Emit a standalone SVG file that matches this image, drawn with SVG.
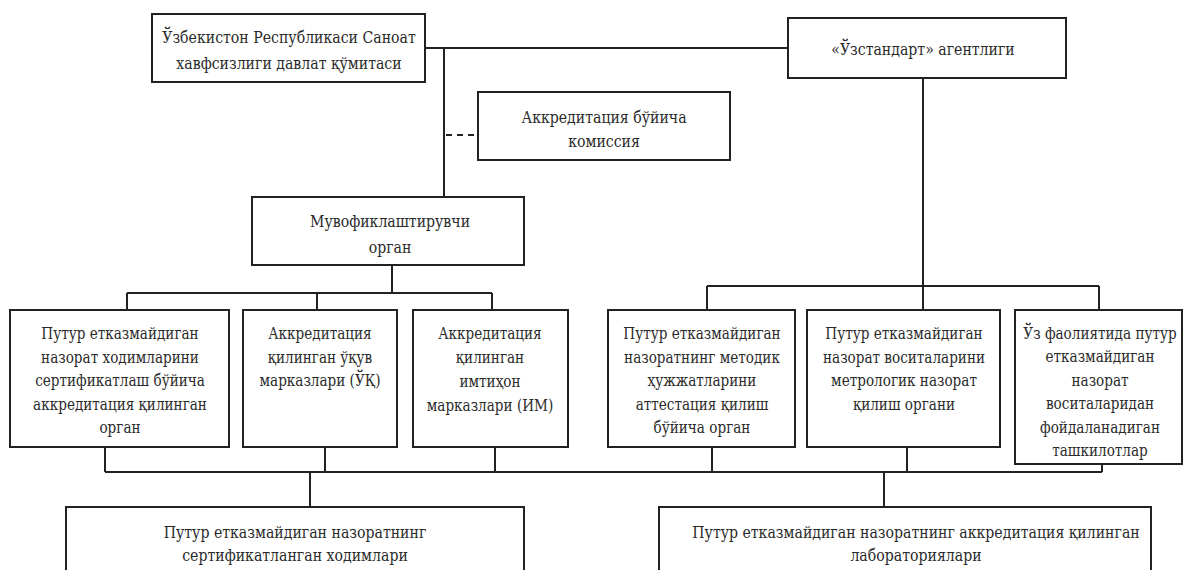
<svg xmlns="http://www.w3.org/2000/svg" width="1184" height="570" viewBox="0 0 1184 570">
<style>
.box{fill:#fff;stroke:#222;stroke-width:2}
.ln{fill:none;stroke:#222;stroke-width:2}
.dash{fill:none;stroke:#222;stroke-width:2;stroke-dasharray:6 5}
text{font-family:'DejaVu Serif',serif;font-size:17px;fill:#2a2a2a;text-anchor:middle}
</style>
<rect width="1184" height="570" fill="#fff"/>
<g id="connectors">
<path class="ln" d="M425 48H788"/>
<path class="ln" d="M444 48V197"/>
<path class="dash" d="M446 135H478"/>
<path class="ln" d="M392 265V293M127 293H492M127 293V310M317 293V310M492 293V310"/>
<path class="ln" d="M923 78V310M707 286H1099M707 286V310M1099 286V310"/>
<path class="ln" d="M105 472H1102M105 447V472M325 447V472M495 447V472M712 447V472M907 447V472M1102 464V472"/>
<path class="ln" d="M310 472V507M884 472V507"/>
</g>
<g id="n-committee">
<rect class="box" x="152" y="14" width="273" height="68"/>
<g transform="translate(289 0) scale(0.83 1)">
<text x="0" y="43">Ўзбекистон Республикаси Саноат</text>
<text x="0" y="69">хавфсизлиги давлат қўмитаси</text>
</g>
</g>
<g id="n-uzstandart">
<rect class="box" x="788" y="18" width="278" height="60"/>
<g transform="translate(923 0) scale(0.83 1)">
<text x="0" y="55">«Ўзстандарт» агентлиги</text>
</g>
</g>
<g id="n-commission">
<rect class="box" x="478" y="92" width="252" height="68"/>
<g transform="translate(604 0) scale(0.83 1)">
<text x="0" y="123">Аккредитация бўйича</text>
<text x="0" y="147">комиссия</text>
</g>
</g>
<g id="n-coord">
<rect class="box" x="252" y="197" width="272" height="68"/>
<g transform="translate(390 0) scale(0.83 1)">
<text x="0" y="227">Мувофиклаштирувчи</text>
<text x="0" y="253">орган</text>
</g>
</g>
<g id="n-a">
<rect class="box" x="10" y="310" width="219" height="137"/>
<g transform="translate(120 0) scale(0.8 1)">
<text x="0" y="339">Путур етказмайдиган</text>
<text x="0" y="363">назорат ходимларини</text>
<text x="0" y="386">сертификатлаш бўйича</text>
<text x="0" y="410">аккредитация қилинган</text>
<text x="0" y="433">орган</text>
</g>
</g>
<g id="n-b">
<rect class="box" x="243" y="310" width="154" height="137"/>
<g transform="translate(320 0) scale(0.8 1)">
<text x="0" y="339">Аккредитация</text>
<text x="0" y="363">қилинган ўқув</text>
<text x="0" y="386">марказлари (ЎҚ)</text>
</g>
</g>
<g id="n-c">
<rect class="box" x="413" y="310" width="155" height="137"/>
<g transform="translate(490 0) scale(0.8 1)">
<text x="0" y="339">Аккредитация</text>
<text x="0" y="363">қилинган</text>
<text x="0" y="387">имтиҳон</text>
<text x="0" y="411">марказлари (ИМ)</text>
</g>
</g>
<g id="n-d">
<rect class="box" x="608" y="310" width="187" height="137"/>
<g transform="translate(702 0) scale(0.8 1)">
<text x="0" y="339">Путур етказмайдиган</text>
<text x="0" y="363">назоратнинг методик</text>
<text x="0" y="386">ҳужжатларини</text>
<text x="0" y="410">аттестация қилиш</text>
<text x="0" y="433">бўйича орган</text>
</g>
</g>
<g id="n-e">
<rect class="box" x="807" y="310" width="193" height="137"/>
<g transform="translate(904 0) scale(0.8 1)">
<text x="0" y="339">Путур етказмайдиган</text>
<text x="0" y="363">назорат воситаларини</text>
<text x="0" y="386">метрологик назорат</text>
<text x="0" y="410">қилиш органи</text>
</g>
</g>
<g id="n-f">
<rect class="box" x="1015" y="310" width="167" height="154"/>
<g transform="translate(1100 0) scale(0.8 1)">
<text x="0" y="339">Ўз фаолиятида путур</text>
<text x="0" y="362">етказмайдиган</text>
<text x="0" y="386">назорат</text>
<text x="0" y="409">воситаларидан</text>
<text x="0" y="433">фойдаланадиган</text>
<text x="0" y="456">ташкилотлар</text>
</g>
</g>
<g id="n-staff">
<rect class="box" x="66" y="507" width="458" height="80"/>
<g transform="translate(295 0) scale(0.83 1)">
<text x="0" y="538">Путур етказмайдиган назоратнинг</text>
<text x="0" y="561">сертификатланган ходимлари</text>
</g>
</g>
<g id="n-labs">
<rect class="box" x="659" y="507" width="492" height="80"/>
<g transform="translate(916 0) scale(0.83 1)">
<text x="0" y="538">Путур етказмайдиган назоратнинг аккредитация қилинган</text>
<text x="0" y="561">лабораториялари</text>
</g>
</g>
</svg>
